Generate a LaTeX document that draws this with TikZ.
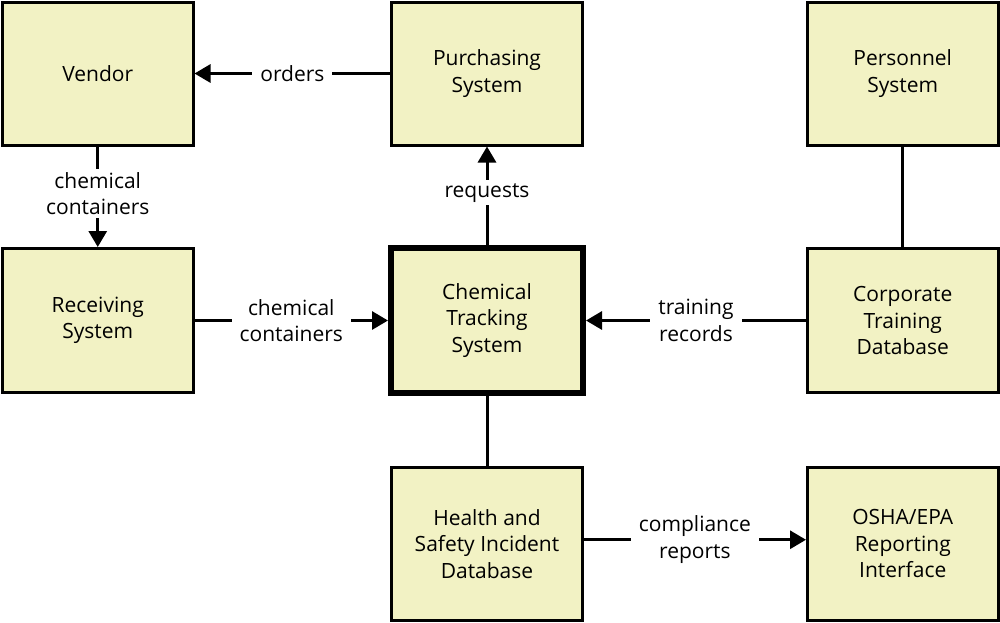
\documentclass[tikz,border=0pt]{standalone}
\usepackage{fontspec}
\setmainfont{Open Sans}
\usetikzlibrary{arrows.meta}
\definecolor{boxfill}{RGB}{242,242,196}
\begin{document}
\begin{tikzpicture}[x=1pt,y=-1pt,
  txt/.style={font=\fontsize{21}{26.5}\selectfont},
  box/.style={txt, draw=black, line width=3pt, fill=boxfill, align=center,
    inner sep=0pt, minimum width=190.5pt, minimum height=143pt},
  mainbox/.style={box, line width=6pt, minimum width=192pt, minimum height=145pt},
  lbl/.style={txt, fill=white, align=center, inner xsep=8pt, inner ysep=3pt},
  conn/.style={draw=black, line width=3pt},
  arr/.style={conn, -{Triangle[length=16pt,width=18pt]}}
]
\useasboundingbox (0,0) rectangle (1000,622);
\node[box] (ven) at (97.75,73.5) {Vendor};
\node[box] (pur) at (487,73.5) {Purchasing\\System};
\node[box] (per) at (902.75,73.5) {Personnel\\System};
\node[box, minimum height=144pt] (rec) at (97.75,320.5) {Receiving\\System};
\node[mainbox] (cts) at (487,320.5) {Chemical\\Tracking\\System};
\node[box, minimum height=143.5pt] (ctd) at (902.75,320.5) {Corporate\\Training\\Database};
\node[box, minimum height=152.5pt] (hs) at (487,543.75) {Health and\\Safety Incident\\Database};
\node[box, minimum height=152.5pt] (osha) at (902.75,543.75) {OSHA/EPA\\Reporting\\Interface};

\draw[arr] (pur) -- (ven) node[midway, lbl] {orders};
\draw[arr] (ven) -- (rec) node[midway, lbl, yshift=3pt] {chemical\\containers};
\draw[arr] (cts) -- (pur) node[midway, lbl, yshift=3pt] {requests};
\draw[arr] (rec) -- (cts) node[midway, lbl] {chemical\\containers};
\draw[arr] (ctd) -- (cts) node[midway, lbl] {training\\records};
\draw[conn] (per) -- (ctd);
\draw[conn] (cts) -- (hs);
\draw[arr] ([yshift=4pt]hs.east) -- ([yshift=4pt]osha.west) node[midway, lbl] {compliance\\reports};
\end{tikzpicture}
\end{document}
